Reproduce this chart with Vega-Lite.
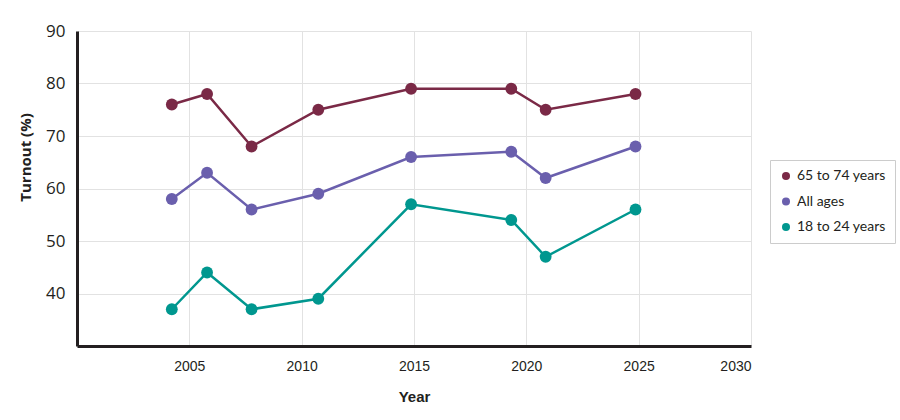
{
  "$schema": "https://vega.github.io/schema/vega-lite/v6.json",
  "width": 674,
  "height": 315,
  "autosize": "none",
  "padding": {"left": 77, "top": 31, "right": 149, "bottom": 74},
  "background": "white",
  "config": {
    "view": {"stroke": null},
    "axis": {"gridColor": "#e2e2e2", "gridWidth": 1, "ticks": false, "domainColor": "#231f20", "domainWidth": 3}
  },
  "data": {
    "values": [
      {"year": 2004.22, "group": "65 to 74 years", "turnout": 76},
      {"year": 2005.79, "group": "65 to 74 years", "turnout": 78},
      {"year": 2007.77, "group": "65 to 74 years", "turnout": 68},
      {"year": 2010.74, "group": "65 to 74 years", "turnout": 75},
      {"year": 2014.87, "group": "65 to 74 years", "turnout": 79},
      {"year": 2019.33, "group": "65 to 74 years", "turnout": 79},
      {"year": 2020.86, "group": "65 to 74 years", "turnout": 75},
      {"year": 2024.86, "group": "65 to 74 years", "turnout": 78},
      {"year": 2004.22, "group": "All ages", "turnout": 58},
      {"year": 2005.79, "group": "All ages", "turnout": 63},
      {"year": 2007.77, "group": "All ages", "turnout": 56},
      {"year": 2010.74, "group": "All ages", "turnout": 59},
      {"year": 2014.87, "group": "All ages", "turnout": 66},
      {"year": 2019.33, "group": "All ages", "turnout": 67},
      {"year": 2020.86, "group": "All ages", "turnout": 62},
      {"year": 2024.86, "group": "All ages", "turnout": 68},
      {"year": 2004.22, "group": "18 to 24 years", "turnout": 37},
      {"year": 2005.79, "group": "18 to 24 years", "turnout": 44},
      {"year": 2007.77, "group": "18 to 24 years", "turnout": 37},
      {"year": 2010.74, "group": "18 to 24 years", "turnout": 39},
      {"year": 2014.87, "group": "18 to 24 years", "turnout": 57},
      {"year": 2019.33, "group": "18 to 24 years", "turnout": 54},
      {"year": 2020.86, "group": "18 to 24 years", "turnout": 47},
      {"year": 2024.86, "group": "18 to 24 years", "turnout": 56}
    ]
  },
  "encoding": {
    "x": {
      "field": "year", "type": "quantitative",
      "scale": {"domain": [2000, 2030], "nice": false, "zero": false},
      "axis": {
        "title": "Year", "values": [2005, 2010, 2015, 2020, 2025, 2030], "format": "d",
        "labelFont": "Liberation Sans", "labelFontSize": 14, "labelColor": "#231f20", "labelPadding": 13,
        "titleFont": "Liberation Sans", "titleFontSize": 15, "titleFontWeight": "bold", "titleColor": "#231f20", "titlePadding": 16
      }
    },
    "y": {
      "field": "turnout", "type": "quantitative",
      "scale": {"domain": [30, 90], "nice": false, "zero": false},
      "axis": {
        "title": "Turnout (%)", "values": [40, 50, 60, 70, 80, 90],
        "labelFont": "Open Sans", "labelFontSize": 17, "labelColor": "#231f20", "labelPadding": 12,
        "titleFont": "Open Sans", "titleFontSize": 15, "titleFontWeight": "bold", "titleColor": "#231f20",
        "titleX": -52, "titleY": 126, "titleAngle": -90, "titleAlign": "center", "titleBaseline": "middle"
      }
    },
    "color": {
      "field": "group", "type": "nominal",
      "scale": {"domain": ["65 to 74 years", "All ages", "18 to 24 years"], "range": ["#7a2946", "#6a5fad", "#00978f"]},
      "legend": {
        "title": null, "orient": "none", "legendX": 693, "legendY": 129,
        "symbolType": "circle", "symbolSize": 64, "symbolOpacity": 1, "symbolStrokeWidth": 0,
        "labelFont": "Lato", "labelFontSize": 14, "labelColor": "#231f20",
        "rowPadding": 11.5, "padding": 9, "strokeColor": "#cccccc", "fillColor": "white",
        "labelOffset": 4
      }
    }
  },
  "layer": [
    {
      "mark": {"type": "line", "strokeWidth": 2.5}
    },
    {
      "mark": {"type": "point", "filled": true, "opacity": 1, "size": 140, "shape": "circle"}
    }
  ]
}
